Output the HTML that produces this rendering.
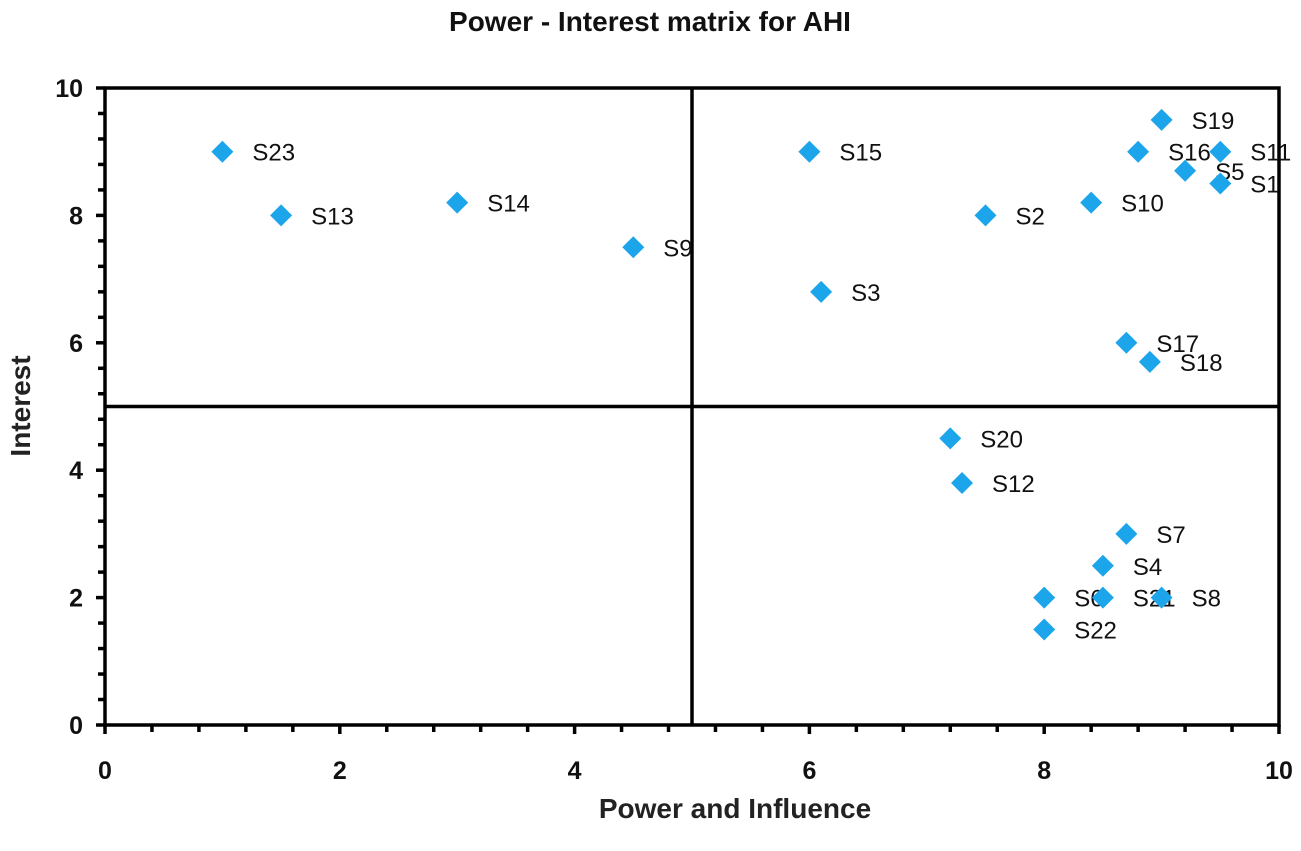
<!DOCTYPE html>
<html><head><meta charset="utf-8"><style>
body{margin:0;background:#fff;}
svg{display:block;font-family:"Liberation Sans",sans-serif;}
</style></head><body>
<svg id="chart" width="1301" height="851">
<text x="650" y="31" text-anchor="middle" font-size="28" font-weight="bold" fill="#111">Power - Interest matrix for AHI</text>
<text x="735" y="818" text-anchor="middle" font-size="28" font-weight="bold" fill="#222">Power and Influence</text>
<text transform="translate(30,406) rotate(-90)" text-anchor="middle" font-size="28" font-weight="bold" fill="#222">Interest</text>
<g id="axes"></g>
<g id="marks"></g>
</svg>
<script>
const labels=["S23","S13","S14","S9","S15","S3","S2","S10","S19","S16","S11","S5","S1","S17","S18","S20","S12","S7","S4","S6","S21","S8","S22"];
const powerValues=[1,1.5,3,4.5,6,6.1,7.5,8.4,9,8.8,9.5,9.2,9.5,8.7,8.9,7.2,7.3,8.7,8.5,8,8.5,9,8];
const interestValues=[9,8,8.2,7.5,9,6.8,8,8.2,9.5,9,9,8.7,8.5,6,5.7,4.5,3.8,3,2.5,2,2,2,1.5];
const xTicks=[0,2,4,6,8,10];
const yTicks=[0,2,4,6,8,10];
const L=105,R=1279,T=88,B=725;
const sx=v=>L+(v/10)*(R-L);
const sy=v=>B-(v/10)*(B-T);
const NS="http://www.w3.org/2000/svg";
const axes=document.getElementById('axes'),marks=document.getElementById('marks');
function mk(tag,attrs,parent){const e=document.createElementNS(NS,tag);for(const k in attrs)e.setAttribute(k,attrs[k]);parent.appendChild(e);return e;}
const frame=mk('rect',{x:L,y:T,width:R-L,height:B-T,fill:'none',stroke:'#000','stroke-width':3.5},axes);


const vl=mk('line',{x1:sx(5),x2:sx(5),y1:T,y2:B,stroke:'#000','stroke-width':3.5},axes);


const hl=mk('line',{x1:L,x2:R,y1:sy(5),y2:sy(5),stroke:'#000','stroke-width':3.5},axes);


for(let i=0;i<=25;i++){const v=i*0.4;const major=(i%5===0);
 const tx=mk('line',{x1:sx(v),x2:sx(v),y1:B,y2:B+(major?9:7),stroke:'#000','stroke-width':3.5},axes);
 
 
 const ty=mk('line',{x1:L-(major?9:7),x2:L,y1:sy(v),y2:sy(v),stroke:'#000','stroke-width':3.5},axes);
 
 }
xTicks.forEach(v=>{const t=mk('text',{x:sx(v),y:B+54,'text-anchor':'middle','font-size':25,'font-weight':'bold',fill:'#111'},axes);t.textContent=v;
 
 });
yTicks.forEach(v=>{const t=mk('text',{x:L-22,y:sy(v)+9,'text-anchor':'end','font-size':25,'font-weight':'bold',fill:'#111'},axes);t.textContent=v;
 
 });
labels.forEach((lab,i)=>{const x=sx(powerValues[i]),y=sy(interestValues[i]);const s=11;
 const p=mk('polygon',{points:`${x},${y-s} ${x+s},${y} ${x},${y+s} ${x-s},${y}`,fill:'#1ca5ea'},marks);
 
 
 const t=mk('text',{x:x+30,y:y+9,'font-size':24,fill:'#111'},marks);t.textContent=lab;
 
 });
</script>
</body></html>
